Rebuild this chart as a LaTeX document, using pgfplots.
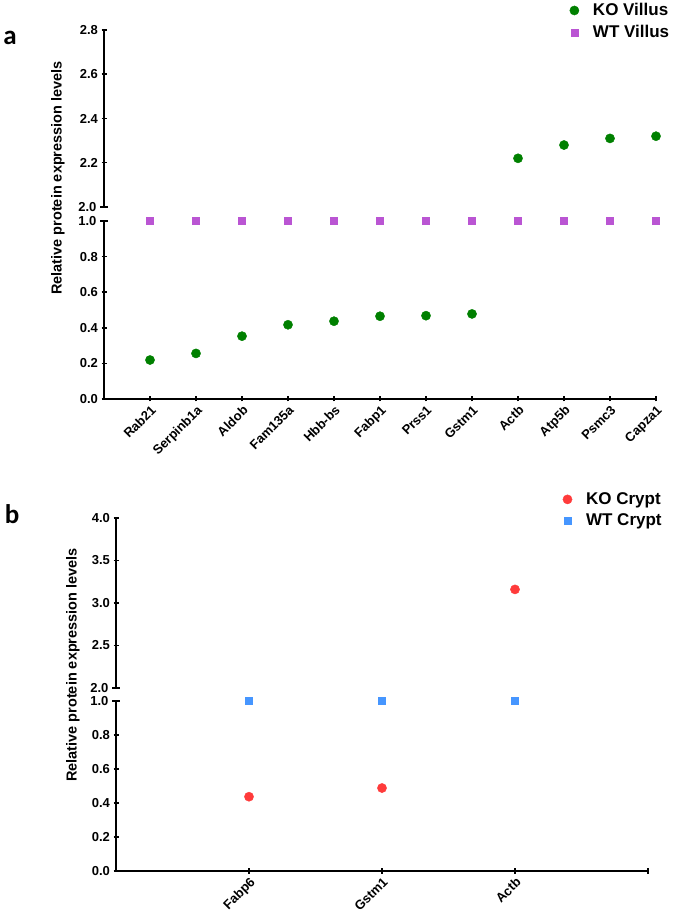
\documentclass[border=0pt]{standalone}
\usepackage{pgfplots}
\pgfplotsset{compat=1.18}
\usepackage{fontspec}
\setmainfont{Liberation Sans}
\newfontfamily\letterfont{Carlito}
\definecolor{kogreen}{RGB}{0,128,0}
\definecolor{wtpurple}{RGB}{186,85,211}
\definecolor{kored}{RGB}{255,59,59}
\definecolor{wtblue}{RGB}{70,150,255}
\pgfplotsset{
  brk/.style={
    scale only axis, clip=false,
    tick style={line width=1.5pt, black},
    major tick length=5pt,
    tick align=outside,
    ticklabel style={font=\fontsize{13}{15}\selectfont\bfseries},
    /pgf/number format/fixed,
    /pgf/number format/fixed zerofill,
    /pgf/number format/precision=1,
    /pgf/number format/assume math mode=true,
    extra y tick style={tick align=center, major tick length=8pt},
  },
  noarrows/.style={
    axis line style={-, line width=1.5pt, black},
    x axis line style={-}, y axis line style={-},
    every outer x axis line/.append style={-},
    every outer y axis line/.append style={-},
    every inner x axis line/.append style={-},
    every inner y axis line/.append style={-},
  },
  ko/.style={only marks, mark=*, mark size=4.6pt, mark options={draw=#1, fill=#1}},
  wt/.style={only marks, mark=square*, mark size=3.6pt, mark options={draw=#1, fill=#1}},
  leg/.style={legend cell align=left,
    legend style={draw=none, fill=none, anchor=north west,
      font=\fontsize{17}{20}\selectfont\bfseries, row sep=4pt,
      /tikz/every odd column/.append style={column sep=12pt},
      nodes={inner sep=2pt}}},
}
\begin{document}
\begin{tikzpicture}
\path[use as bounding box] (0pt,0pt) rectangle (675pt,923pt);

% ---------------- Panel a ----------------
\begin{axis}[brk, at={(104pt,716pt)}, anchor=south west,
  width=552pt, height=177pt,
  xmin=0, xmax=12, ymin=2, ymax=2.8,
  axis x line=none, axis y line=left, noarrows,
  ytick={2.2,2.4,2.6,2.8}, extra y ticks={2.0}]
\addplot[ko=kogreen] coordinates {(9,2.22) (10,2.28) (11,2.31) (12,2.32)};
\end{axis}

\begin{axis}[brk, at={(104pt,524pt)}, anchor=south west,
  width=552pt, height=178pt,
  xmin=0, xmax=12, ymin=0, ymax=1,
  axis lines=left, noarrows,
  xtick={1,2,3,4,5,6,7,8,9,10,11,12},
  xticklabels={Rab21,Serpinb1a,Aldob,Fam135a,Hbb-bs,Fabp1,Prss1,Gstm1,Actb,Atp5b,Psmc3,Capza1},
  xticklabel style={rotate=45, anchor=north east, inner sep=2pt},
  ytick={0,0.2,0.4,0.6,0.8}, extra y ticks={1.0},
  leg, legend style={at={(0.838,2.245)}}]
\addplot[ko=kogreen] coordinates {(1,0.219) (2,0.256) (3,0.353) (4,0.417) (5,0.437) (6,0.465) (7,0.468) (8,0.478)};
\addlegendentry{KO Villus}
\addplot[wt=wtpurple] coordinates {(1,1) (2,1) (3,1) (4,1) (5,1) (6,1) (7,1) (8,1) (9,1) (10,1) (11,1) (12,1)};
\addlegendentry{WT Villus}
\end{axis}

\node[rotate=90, font=\fontsize{14.5}{16}\selectfont\bfseries] at (58pt,745pt) {Relative protein expression levels};
\node[font=\letterfont\fontsize{27}{30}\selectfont\bfseries] at (10pt,885pt) {a};

% ---------------- Panel b ----------------
\begin{axis}[brk, at={(116pt,235pt)}, anchor=south west,
  width=532pt, height=170pt,
  xmin=0, xmax=4, ymin=2, ymax=4,
  axis x line=none, axis y line=left, noarrows,
  ytick={2.5,3.0,3.5,4.0}, extra y ticks={2.0}]
\addplot[ko=kored] coordinates {(3,3.16)};
\end{axis}

\begin{axis}[brk, at={(116pt,52pt)}, anchor=south west,
  width=532pt, height=170pt,
  xmin=0, xmax=4, ymin=0, ymax=1,
  axis lines=left, noarrows,
  xtick={1,2,3,4},
  xticklabels={Fabp6,Gstm1,Actb,{}},
  xticklabel style={rotate=45, anchor=north east, inner sep=2pt},
  ytick={0,0.2,0.4,0.6,0.8}, extra y ticks={1.0},
  leg, legend style={at={(0.834,2.25)}}]
\addplot[ko=kored] coordinates {(1,0.437) (2,0.488)};
\addlegendentry{KO Crypt}
\addplot[wt=wtblue] coordinates {(1,1) (2,1) (3,1)};
\addlegendentry{WT Crypt}
\end{axis}

\node[rotate=90, font=\fontsize{14.5}{16}\selectfont\bfseries] at (73pt,258pt) {Relative protein expression levels};
\node[font=\letterfont\fontsize{27}{30}\selectfont\bfseries] at (12pt,409pt) {b};
\end{tikzpicture}
\end{document}
